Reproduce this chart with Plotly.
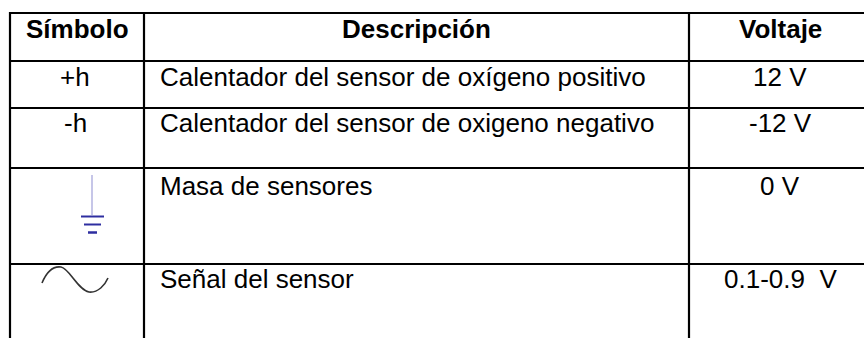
import plotly.graph_objects as go

# ---- table content ----
headers = ["Símbolo", "Descripción", "Voltaje"]
symbols = ["+h", "-h", "", ""]
descriptions = [
    "Calentador del sensor de oxígeno positivo",
    "Calentador del sensor de oxigeno negativo",
    "Masa de sensores",
    "Señal del sensor",
]
voltages = ["12 V", "-12 V", "0 V", "0.1-0.9  V"]

# ---- layout constants (pixels) ----
W, H = 864, 338
col_x = [10, 144, 689, 870]          # vertical border positions
row_y = [13, 61, 108, 168, 264, 345]  # horizontal border positions
baselines = [37.7, 86, 131.7, 195, 288.3]
FS = 26
FONT = "Liberation Sans, Arial, sans-serif"

fig = go.Figure()
shapes = []
# horizontal lines
for y in row_y[:-1]:
    shapes.append(dict(type="line", x0=col_x[0] - 1, x1=col_x[-1], y0=y, y1=y,
                       xref="x", yref="y", line=dict(color="black", width=2.2)))
# vertical lines
for x in col_x[:-1]:
    shapes.append(dict(type="line", x0=x, x1=x, y0=row_y[0] - 1, y1=row_y[-1],
                       xref="x", yref="y", line=dict(color="black", width=2.2)))

# ground symbol (row 3)
shapes.append(dict(type="line", x0=92, x1=92, y0=175, y1=215, xref="x", yref="y",
                   line=dict(color="#c6c6e8", width=2)))
for (xa, xb, yy, wd) in [(81, 104, 216.5, 2), (84, 101, 224.5, 2), (88, 97, 232.5, 2.5)]:
    shapes.append(dict(type="line", x0=xa, x1=xb, y0=yy, y1=yy, xref="x", yref="y",
                       line=dict(color="#2e2ea0", width=wd)))
# sine symbol (row 4)
shapes.append(dict(type="path", xref="x", yref="y",
                   path="M42,283 C47,271 54,266 61,267 C69,268 78,290 89,292 C98,293 105,285 108,278",
                   line=dict(color="#333333", width=1.6)))

annotations = []
def add_text(txt, x, baseline, anchor, bold=False):
    annotations.append(dict(
        text=f"<b>{txt}</b>" if bold else txt,
        x=x, y=baseline - 0.35 * FS, xref="x", yref="y",
        xanchor=anchor, yanchor="middle", showarrow=False,
        font=dict(family=FONT, size=FS, color="black")))

centers = [(col_x[0] + col_x[1]) / 2, (col_x[1] + col_x[2]) / 2, 780]
for i, h in enumerate(headers):
    add_text(h, centers[i], baselines[0], "center", bold=True)
for i in range(len(descriptions)):
    b = baselines[i + 1]
    if symbols[i]:
        add_text(symbols[i], 75, b, "center")
    add_text(descriptions[i], 158, b, "left")
    add_text(voltages[i], centers[2], b, "center")

fig.update_layout(
    width=W, height=H, margin=dict(l=0, r=0, t=0, b=0),
    paper_bgcolor="white", plot_bgcolor="white",
    xaxis=dict(range=[0, W], visible=False, fixedrange=True),
    yaxis=dict(range=[H, 0], visible=False, fixedrange=True),
    shapes=shapes, annotations=annotations, showlegend=False,
)
fig.write_html(
    "out.html",
    config={"displayModeBar": False},
    post_script="document.body.style.margin='0';document.body.style.overflow='hidden';",
)
